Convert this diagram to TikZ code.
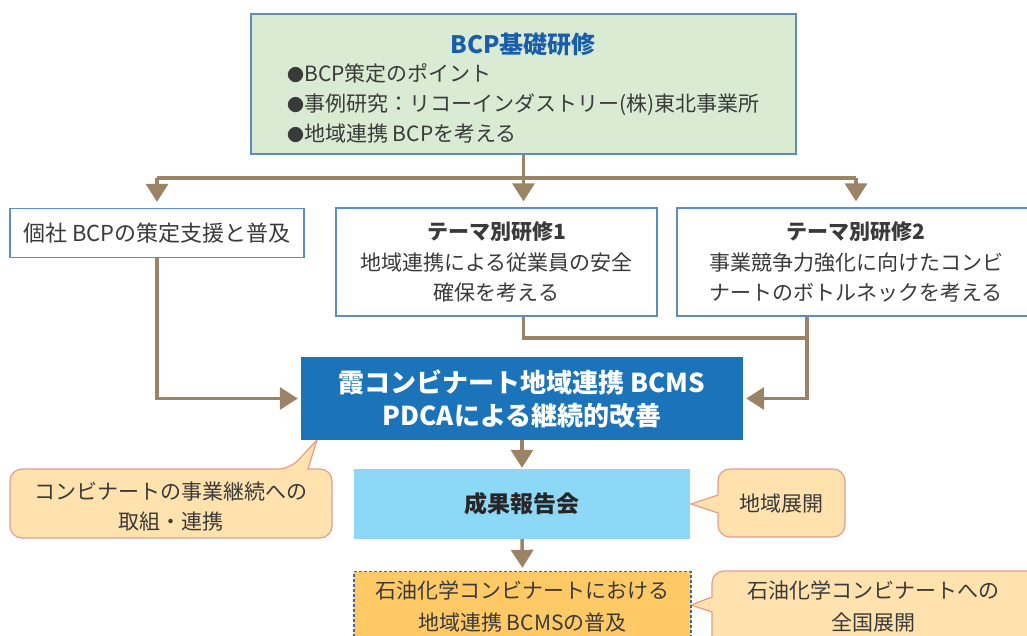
\documentclass[tikz,border=0pt]{standalone}
\usepackage{fontspec}
\setmainfont{Noto Sans CJK JP}
\usetikzlibrary{arrows.meta}
\definecolor{brn}{HTML}{9B8465}
\definecolor{bdr}{HTML}{5B8CC4}
\definecolor{txt}{HTML}{3A3A3A}
\definecolor{grn}{HTML}{D9EBD2}
\definecolor{ttl}{HTML}{1A5DAB}
\definecolor{bcmsblue}{HTML}{1B73BA}
\definecolor{lblue}{HTML}{8DD7F7}
\definecolor{orng}{HTML}{FFC966}
\definecolor{dashblue}{HTML}{2E6DB4}
\definecolor{cfill}{HTML}{FFE2AE}
\definecolor{cline}{HTML}{E59C8C}
\newcommand{\bul}{{\fontsize{17}{30}\selectfont ●}}
\begin{document}
\begin{tikzpicture}[x=1pt,y=-1pt,
  font=\fontsize{21}{30}\selectfont,
  conn/.style={draw=brn,line width=3.5pt},
  arr/.style={conn,-{Triangle[width=22pt,length=18pt]}},
  wbox/.style={draw=bdr,line width=1.3pt,fill=white,inner sep=0pt,text=txt,align=center},
  callout/.style={draw=cline,line width=1.2pt,fill=cfill},
  ctext/.style={text=txt,align=center,inner sep=0pt}]
\useasboundingbox (0,0) rectangle (1027,635);

% callouts (drawn first)
\draw[callout] (10,500) [rounded corners=12pt] -- (10,469) -- (290,469) [sharp corners] -- (317,440) -- (308,469) [rounded corners=12pt] -- (332,469) -- (332,538) -- (10,538) -- cycle;
\draw[callout] (780,469) [rounded corners=12pt] -- (845,469) -- (845,537) -- (718,537) [sharp corners] -- (718,513) -- (691,504) -- (718,495) [rounded corners=12pt] -- (718,469) -- cycle;
\draw[callout] (850,571) [rounded corners=12pt] -- (1040,571) -- (1040,650) -- (712,650) [sharp corners] -- (712,612) -- (691,605) -- (712,597) [rounded corners=12pt] -- (712,571) -- cycle;

% top box
\node[draw=bdr,line width=1.3pt,fill=grn,minimum width=545pt,minimum height=140pt,inner sep=0pt] (top) at (523.5,84) {};
\node[text=ttl,font=\bfseries\fontsize{24}{30}\selectfont,inner sep=0pt] (toptitle) at (523,44) {BCP基礎研修};
\node[text=txt,align=left,anchor=west,inner sep=0pt] (topbul) at (287,103) {\bul BCP策定のポイント\\\bul 事例研究：リコーインダストリー(株)東北事業所\\\bul 地域連携 BCPを考える};

% second row
\node[wbox,minimum width=294pt,minimum height=49pt,font=\fontsize{22}{30}\selectfont] (b1) at (157,233) {個社 BCPの策定支援と普及};
\node[wbox,minimum width=321pt,minimum height=108pt] (b2) at (496.5,262) {\textbf{テーマ別研修1}\\[1pt]地域連携による従業員の安全\\確保を考える};
\node[wbox,minimum width=358pt,minimum height=108pt] (b3) at (856,262) {\textbf{テーマ別研修2}\\[1pt]事業競争力強化に向けたコンビ\\ナートのボトルネックを考える};

% central boxes
\node[fill=bcmsblue,text=white,minimum width=442pt,minimum height=83pt,inner sep=0pt,align=center,font=\bfseries\fontsize{26}{33}\selectfont] (bcms) at (522,398.5) {霞コンビナート地域連携 BCMS\\PDCAによる継続的改善};
\node[fill=lblue,text=black!85,minimum width=336pt,minimum height=70pt,inner sep=0pt,font=\bfseries\fontsize{23}{30}\selectfont] (rep) at (522,504) {成果報告会};
\node[fill=orng,draw=dashblue,dash pattern=on 3pt off 2pt,line width=1.3pt,minimum width=337pt,minimum height=69pt,inner sep=0pt,text=txt,align=center,font=\fontsize{21}{32}\selectfont] (pet) at (522.5,606) {石油化学コンビナートにおける\\地域連携 BCMSの普及};

% callout texts
\node[ctext] (c1) at (171,507) {コンビナートの事業継続への\\取組・連携};
\node[ctext] (c2) at (781.5,504) {地域展開};
\node[ctext,font=\fontsize{21}{32}\selectfont] (c3) at (873,606) {石油化学コンビナートへの\\全国展開};

% connectors
\coordinate (jl) at (157,178);
\coordinate (jc) at (523.5,178);
\coordinate (jr) at (856,178);
\draw[conn] (top.south) -- (jc);
\draw[conn] (jl) -- (jr);
\draw[arr,shorten >=6pt] (jl) -- (b1.north);
\draw[arr,shorten >=6pt] (jc) -- (jc |- b2.north);
\draw[arr,shorten >=6pt] (jr) -- (b3.north);

\coordinate (b2out) at (523.5,317);
\coordinate (b3out) at (807,317);
\coordinate (mj) at (807,338);
\draw[conn] (b2out) |- (mj);
\draw[arr,shorten >=3pt] (b3out) |- (bcms.east);
\draw[arr,shorten >=3pt] (b1.south) |- (bcms.west);
\draw[arr,shorten >=1pt] (bcms.south) -- (rep.north);
\draw[arr,shorten >=3pt] (rep.south) -- (pet.north);
\end{tikzpicture}
\end{document}
